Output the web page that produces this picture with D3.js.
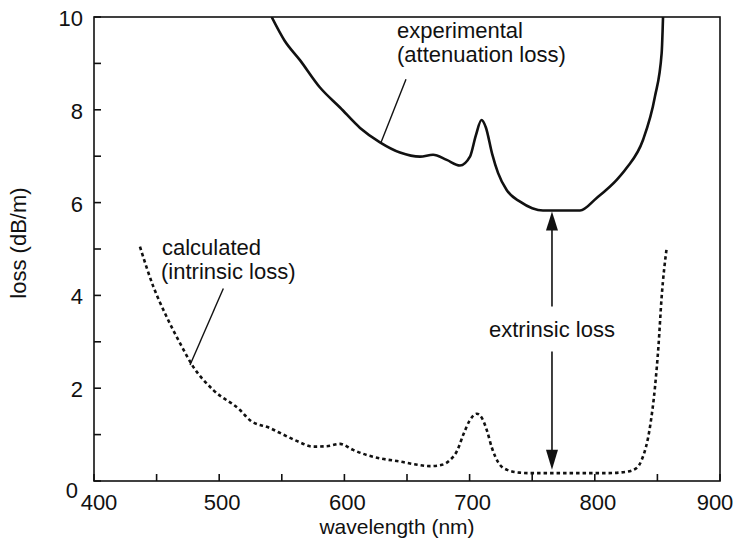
<!DOCTYPE html>
<html><head><meta charset="utf-8">
<script src="https://cdn.jsdelivr.net/npm/d3@7"></script>
<style>body{margin:0;background:#fff}svg{display:block}text{font-family:"Liberation Sans",Arial,sans-serif;fill:#111}</style>
</head><body><svg id="c" width="735" height="538"></svg>
<script>
const expWave = [541.9, 552, 564.5, 580.5, 596.5, 612.5, 628.4, 644.4, 660.4, 670.8, 681.7, 692.3, 700.3, 705, 709.5, 713, 718, 722.7, 729.6, 740.3, 750, 758.6, 788.2, 801.5, 817.5, 825.5, 838.5, 848, 853.4, 854.5];
const expLoss = [10.0, 9.5, 9.07, 8.48, 8.05, 7.61, 7.30, 7.08, 6.99, 7.03, 6.92, 6.80, 6.99, 7.45, 7.78, 7.62, 7.05, 6.64, 6.27, 6.02, 5.88, 5.83, 5.83, 6.10, 6.49, 6.75, 7.35, 8.28, 9.22, 10.0];
const calcWave = [436.7, 447.4, 458, 468.7, 479.3, 495.3, 516.6, 524.6, 540.6, 551.2, 563, 575.2, 586, 596.5, 607, 617.8, 630, 644.4, 656, 668.4, 678, 684.3, 690, 695, 700, 705.7, 710, 713.7, 718, 722.9, 730, 740, 748.2, 780, 810, 825.5, 833.4, 837.4, 844.1, 848.1, 850.8, 853.4, 857.4];
const calcLoss = [5.05, 4.19, 3.54, 2.97, 2.46, 1.96, 1.53, 1.31, 1.14, 1.0, 0.85, 0.74, 0.75, 0.80, 0.67, 0.56, 0.48, 0.42, 0.36, 0.32, 0.35, 0.45, 0.65, 1.0, 1.3, 1.45, 1.35, 1.1, 0.7, 0.4, 0.24, 0.18, 0.17, 0.17, 0.17, 0.2, 0.28, 0.45, 1.17, 2.03, 2.89, 3.97, 5.02];
const xTicks = [400, 500, 600, 700, 800, 900];
const xMinor = [450, 550, 650, 750, 850];
const yTicks = [0, 2, 4, 6, 8, 10];
const yMinor = [1, 3, 5, 7, 9];
const xTitle = "wavelength (nm)";
const yTitle = "loss (dB/m)";

const svg = d3.select("#c");
const L = 94, R = 720, T = 17, B = 481;
const x = d3.scaleLinear().domain([400, 900]).range([L, R]);
const y = d3.scaleLinear().domain([0, 10]).range([B, T]);
const FS = 22;

// frame
svg.append("rect").attr("x", L).attr("y", T).attr("width", R - L).attr("height", B - T)
  .attr("fill", "none").attr("stroke", "#111").attr("stroke-width", 1.6);

// ticks (inward)
const tk = 7;
svg.append("g").selectAll("line").data(xTicks.concat(xMinor)).join("line")
  .attr("x1", d => x(d)).attr("x2", d => x(d)).attr("y1", B).attr("y2", B - tk)
  .attr("stroke", "#111").attr("stroke-width", 1.6);
svg.append("g").selectAll("line").data(yTicks.concat(yMinor)).join("line")
  .attr("x1", L).attr("x2", L + tk).attr("y1", d => y(d)).attr("y2", d => y(d))
  .attr("stroke", "#111").attr("stroke-width", 1.6);

svg.append("g").selectAll("text").data(xTicks).join("text")
  .attr("x", d => x(d) + (d === 900 ? -5 : d === 400 ? 5 : 3)).attr("y", B + 29).attr("text-anchor", "middle")
  .attr("font-size", FS).text(d => d);
svg.append("g").selectAll("text").data(yTicks).join("text")
  .attr("x", d => L - (d === 0 ? 16 : 11)).attr("y", d => y(d) + (d === 0 ? 17 : 9)).attr("text-anchor", "end")
  .attr("font-size", FS).text(d => d);

svg.append("text").attr("x", (L + R) / 2 - 10).attr("y", 534).attr("text-anchor", "middle")
  .attr("font-size", 21).text(xTitle);
svg.append("text").attr("transform", `translate(26,${(T + B) / 2 - 6}) rotate(-90)`)
  .attr("text-anchor", "middle").attr("font-size", FS).text(yTitle);

svg.append("clipPath").attr("id", "clip").append("rect")
  .attr("x", L).attr("y", T).attr("width", R - L).attr("height", B - T);

const line = d3.line().x(d => x(d[0])).y(d => y(d[1])).curve(d3.curveMonotoneX);
svg.append("path").datum(d3.zip(expWave, expLoss)).attr("d", line)
  .attr("fill", "none").attr("stroke", "#111").attr("stroke-width", 2.6)
  .attr("clip-path", "url(#clip)");
svg.append("path").datum(d3.zip(calcWave, calcLoss)).attr("d", line)
  .attr("fill", "none").attr("stroke", "#111").attr("stroke-width", 2.6)
  .attr("stroke-dasharray", "3.5,3");

// annotations
svg.append("text").attr("x", 397).attr("y", 38).attr("font-size", FS).text("experimental");
svg.append("text").attr("x", 397).attr("y", 62).attr("font-size", FS).text("(attenuation loss)");
svg.append("line").attr("x1", x(649.2)).attr("y1", y(8.66)).attr("x2", x(629)).attr("y2", y(7.28))
  .attr("stroke", "#111").attr("stroke-width", 1.4);

svg.append("text").attr("x", 162).attr("y", 255).attr("font-size", FS).text("calculated");
svg.append("text").attr("x", 161).attr("y", 279).attr("font-size", FS).text("(intrinsic loss)");
svg.append("line").attr("x1", x(503.3)).attr("y1", y(4.15)).attr("x2", x(476.7)).attr("y2", y(2.5))
  .attr("stroke", "#111").attr("stroke-width", 1.4);

const ax = x(765.8);
svg.append("text").attr("x", ax).attr("y", 337).attr("text-anchor", "middle").attr("font-size", FS).text("extrinsic loss");
svg.append("line").attr("x1", ax).attr("x2", ax).attr("y1", y(3.76)).attr("y2", y(5.83) + 16)
  .attr("stroke", "#111").attr("stroke-width", 1.6);
svg.append("path").attr("d", `M${ax},${y(5.83) + 1}l-6,19h12z`).attr("fill", "#111");
svg.append("line").attr("x1", ax).attr("x2", ax).attr("y1", y(2.79)).attr("y2", y(0.24) - 16)
  .attr("stroke", "#111").attr("stroke-width", 1.6);
svg.append("path").attr("d", `M${ax},${y(0.24)}l-6,-20h12z`).attr("fill", "#111");
</script></body></html>
